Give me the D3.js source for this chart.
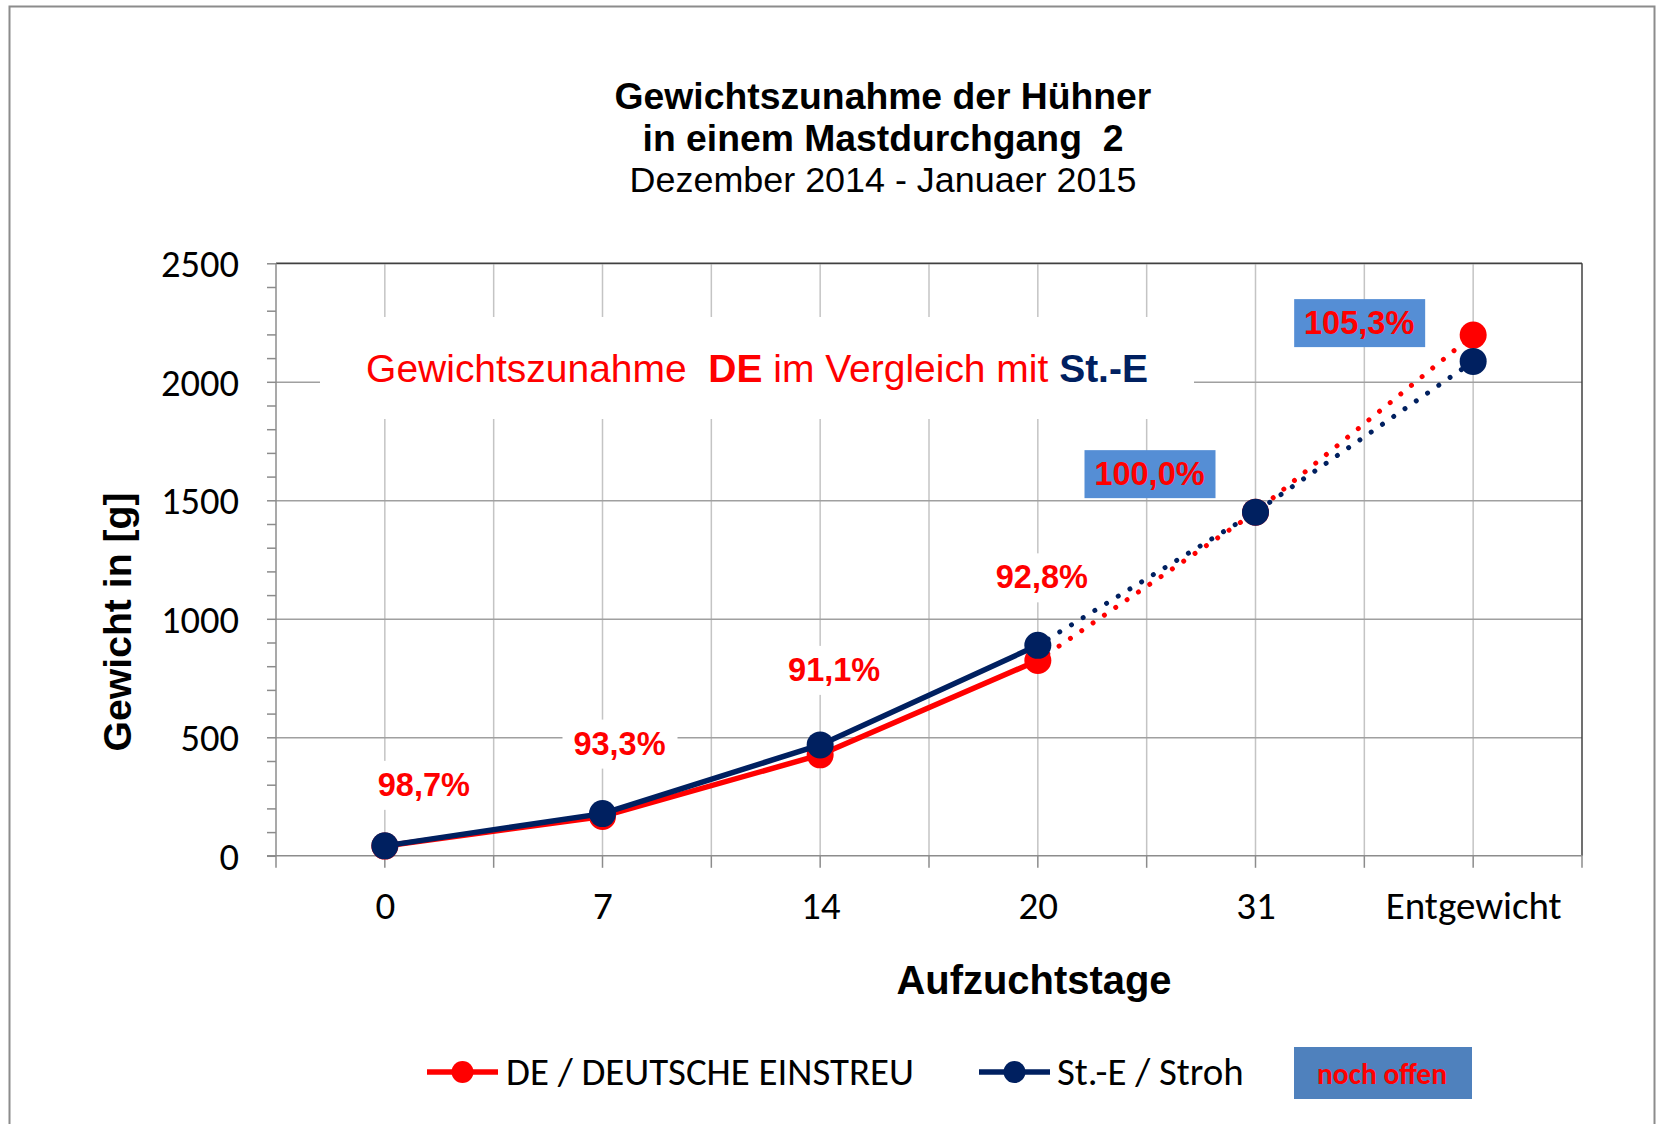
<!DOCTYPE html>
<html><head><meta charset="utf-8">
<script src="https://cdn.jsdelivr.net/npm/d3@7/dist/d3.min.js"></script>
<style>body{margin:0;background:#fff} svg{display:block} text{white-space:pre}</style>
</head><body><svg id="c" width="1657" height="1124"></svg>
<script>
// ---- data ----
const categories = ["0", "7", "14", "20", "31", "Entgewicht"];
const seriesDE = [41, 166, 426, 824, 1450, 2197];
const seriesSTE = [42, 178, 468, 888, 1450, 2086];
const ratioLabels = ["98,7%", "93,3%", "91,1%", "92,8%", "100,0%", "105,3%"];
const ratioHighlighted = [false, false, false, false, true, true];
const yTicks = [0, 500, 1000, 1500, 2000, 2500];
const yMinorTicks = d3.range(0, 2501, 100);
const seriesNames = ["DE / DEUTSCHE EINSTREU", "St.-E / Stroh"];
const titleLines = ["Gewichtszunahme der Hühner", "in einem Mastdurchgang  2", "Dezember 2014 - Januaer 2015"];
const solidUntil = 3; // index of last measured point (solid line), later dotted
const openLabel = "noch offen";

// ---- styles / layout ----
const RED = "#ff0000", NAVY = "#002060", BOX = "#558ED5", BOX2 = "#4F81BD";
const ARIAL = "'Liberation Sans', Arial, sans-serif";
const CALIBRI = "Carlito, Calibri, Lato, 'Open Sans', sans-serif";
const labelOffsets = [[39, -61], [17, -70], [14, -75], [4, -68], [-106, -38], [-114, -12]];

const svg = d3.select("#c");
const plot = {left: 276, right: 1582, top: 263.3, bottom: 855.8};
const x = d3.scalePoint().domain(categories).range([plot.left, plot.right]).padding(0.5);
const y = d3.scaleLinear().domain([0, 2500]).range([plot.bottom, plot.top]);
const step = x.step();
const halfPos = d3.range(0, categories.length * 2 + 1).map(i => plot.left + i * step / 2);

function fit(sel, target) {
  const w = sel.node().getComputedTextLength();
  const fs = parseFloat(sel.attr("font-size"));
  const nf = fs * target / w;
  sel.attr("font-size", nf);
  return nf;
}

// outer border
svg.append("rect").attr("x", 9.5).attr("y", 6.5).attr("width", 1645).attr("height", 1140)
  .attr("fill", "#fff").attr("stroke", "#8c8c8c").attr("stroke-width", 2);

// title
const tl = [{t: titleLines[0], w: 537, cy: 96, b: true}, {t: titleLines[1], w: 476, cy: 138, b: true}, {t: titleLines[2], w: 507, cy: 180, b: false}];
const titleSel = tl.map(d => svg.append("text").attr("x", 883).attr("y", d.cy).attr("text-anchor", "middle")
    .attr("dominant-baseline", "central").attr("font-family", ARIAL).attr("font-weight", d.b ? "bold" : "normal")
    .attr("font-size", 32).attr("fill", "#000").text(d.t));
const tFs = fit(titleSel[0], 537);
titleSel[1].attr("font-size", tFs);
fit(titleSel[2], 507);

// vertical gridlines
svg.append("g").selectAll("line").data(halfPos.slice(1, -1)).join("line")
  .attr("x1", d => d).attr("x2", d => d).attr("y1", plot.top).attr("y2", plot.bottom)
  .attr("stroke", "#c4c4c4").attr("stroke-width", 1.5);

// horizontal gridlines
svg.append("g").attr("transform", `translate(${plot.left},0)`)
  .call(d3.axisLeft(y).tickValues(yTicks.slice(1)).tickSize(-(plot.right - plot.left)).tickFormat(""))
  .call(g => g.select(".domain").remove())
  .call(g => g.selectAll("line").attr("stroke", "#a0a0a0").attr("stroke-width", 1.5));

// y axis minor + major ticks
svg.append("g").attr("transform", `translate(${plot.left},0)`)
  .call(d3.axisLeft(y).tickValues(yMinorTicks).tickSize(9).tickFormat(""))
  .call(g => g.select(".domain").remove())
  .call(g => g.selectAll("line").attr("stroke", "#8c8c8c").attr("stroke-width", 1.5));

// x ticks at all half positions
svg.append("g").selectAll("line").data(halfPos).join("line")
  .attr("x1", d => d).attr("x2", d => d).attr("y1", plot.bottom).attr("y2", plot.bottom + 12)
  .attr("stroke", "#8c8c8c").attr("stroke-width", 1.5);

// plot border
svg.append("line").attr("x1", plot.left).attr("x2", plot.right).attr("y1", plot.top).attr("y2", plot.top).attr("stroke", "#404040").attr("stroke-width", 1.5);
svg.append("line").attr("x1", plot.right).attr("x2", plot.right).attr("y1", plot.top).attr("y2", plot.bottom).attr("stroke", "#404040").attr("stroke-width", 1.5);
svg.append("line").attr("x1", plot.left).attr("x2", plot.left).attr("y1", plot.top).attr("y2", plot.bottom).attr("stroke", "#8c8c8c").attr("stroke-width", 1.5);
svg.append("line").attr("x1", plot.left - 9).attr("x2", plot.right).attr("y1", plot.bottom).attr("y2", plot.bottom).attr("stroke", "#8c8c8c").attr("stroke-width", 1.5);

// y labels
const yl = svg.append("g").attr("transform", `translate(${plot.left},0)`)
  .call(d3.axisLeft(y).tickValues(yTicks).tickFormat(d3.format("d")).tickSize(0).tickPadding(37))
  .call(g => g.select(".domain").remove());
yl.selectAll("text").attr("font-family", CALIBRI).attr("font-size", 38).attr("fill", "#000")
  .attr("dy", null).attr("dominant-baseline", "central");
const tickFs = fit(yl.selectAll("text").filter(d => d === 2500), 78);
yl.selectAll("text").attr("font-size", tickFs);

// x labels
const xl = svg.append("g").attr("transform", `translate(0,${plot.bottom})`)
  .call(d3.axisBottom(x).tickSize(0))
  .call(g => g.select(".domain").remove());
xl.selectAll("text").attr("font-family", CALIBRI).attr("font-size", 38).attr("fill", "#000")
  .attr("y", 906 - plot.bottom).attr("dy", null).attr("dominant-baseline", "central");
const xFs = fit(xl.selectAll("text").filter(d => d === "Entgewicht"), 176);
xl.selectAll("text").attr("font-size", xFs);

// axis titles
const xt = svg.append("text").attr("x", 1034).attr("y", 980).attr("text-anchor", "middle").attr("dominant-baseline", "central")
  .attr("font-family", ARIAL).attr("font-weight", "bold").attr("font-size", 38).text("Aufzuchtstage");
fit(xt, 275);
const yt = svg.append("text").attr("transform", "translate(117,622) rotate(-90)").attr("text-anchor", "middle").attr("dominant-baseline", "central")
  .attr("font-family", ARIAL).attr("font-weight", "bold").attr("font-size", 36).text("Gewicht in [g]");
fit(yt, 259);

// annotation box
svg.append("rect").attr("x", 320).attr("y", 317).attr("width", 874).attr("height", 102).attr("fill", "#fff");
const ann = svg.append("text").attr("x", 757).attr("y", 368).attr("text-anchor", "middle").attr("dominant-baseline", "central")
  .attr("font-family", ARIAL).attr("font-size", 37);
ann.append("tspan").attr("fill", RED).text("Gewichtszunahme  ");
ann.append("tspan").attr("fill", RED).attr("font-weight", "bold").text("DE");
ann.append("tspan").attr("fill", RED).text(" im Vergleich mit ");
ann.append("tspan").attr("fill", NAVY).attr("font-weight", "bold").text("St.-E");
fit(ann, 782);

// label backgrounds
const pts = categories.map((c, i) => ({c, i, px: x(c), py: y(Math.max(seriesDE[i], seriesSTE[i]))}));
const lblG = svg.append("g");
pts.forEach(p => {
  const cx = p.px + labelOffsets[p.i][0], cy = p.py + labelOffsets[p.i][1];
  if (ratioHighlighted[p.i]) {
    lblG.append("rect").attr("x", cx - 65).attr("y", cy - 24).attr("width", 131).attr("height", 48).attr("fill", BOX);
  } else {
    lblG.append("rect").attr("x", cx - 57).attr("y", cy - 24).attr("width", 115).attr("height", 49).attr("fill", "#fff");
  }
});

// series
function drawSeries(vals, color) {
  const g = svg.append("g");
  const solid = vals.map((v, i) => i <= solidUntil ? v : null);
  g.append("path").attr("d", d3.line().defined(d => d !== null).x((d, i) => x(categories[i])).y(d => y(d))(solid))
    .attr("fill", "none").attr("stroke", color).attr("stroke-width", 5.5).attr("stroke-linejoin", "round");
  const dottedPts = vals.map((v, i) => [x(categories[i]), y(v)]).slice(solidUntil);
  g.append("path").attr("d", d3.line()(dottedPts))
    .attr("fill", "none").attr("stroke", color).attr("stroke-width", 5).attr("stroke-linecap", "round")
    .attr("stroke-dasharray", "0.01 13.7").attr("stroke-dashoffset", -12);
  g.selectAll("circle").data(vals).join("circle")
    .attr("cx", (d, i) => x(categories[i])).attr("cy", d => y(d)).attr("r", 13.5).attr("fill", color);
}
drawSeries(seriesDE, RED);
drawSeries(seriesSTE, NAVY);

// ratio labels
pts.forEach(p => {
  const cx = p.px + labelOffsets[p.i][0], cy = p.py + labelOffsets[p.i][1];
  svg.append("text").attr("x", cx).attr("y", cy).attr("text-anchor", "middle").attr("dominant-baseline", "central")
    .attr("font-family", ARIAL).attr("font-weight", "bold").attr("font-size", 32.5).attr("fill", RED)
    .text(ratioLabels[p.i]);
});

// legend
const legend = [{name: seriesNames[0], color: RED, x0: 427, x1: 498, tx: 506},
                {name: seriesNames[1], color: NAVY, x0: 979, x1: 1050, tx: 1057}];
const legTexts = [];
legend.forEach(l => {
  svg.append("line").attr("x1", l.x0).attr("x2", l.x1).attr("y1", 1072).attr("y2", 1072).attr("stroke", l.color).attr("stroke-width", 5.5);
  svg.append("circle").attr("cx", (l.x0 + l.x1) / 2).attr("cy", 1072).attr("r", 11).attr("fill", l.color);
  legTexts.push(svg.append("text").attr("x", l.tx).attr("y", 1071).attr("dominant-baseline", "central")
    .attr("font-family", CALIBRI).attr("font-size", 38).attr("fill", "#000").text(l.name));
});
const legFs = fit(legTexts[0], 408);
legTexts[1].attr("font-size", legFs);

svg.append("rect").attr("x", 1294).attr("y", 1047).attr("width", 178).attr("height", 52).attr("fill", BOX2);
const no = svg.append("text").attr("x", 1382).attr("y", 1074).attr("text-anchor", "middle").attr("dominant-baseline", "central")
  .attr("font-family", CALIBRI).attr("font-weight", "bold").attr("font-size", 29).attr("fill", RED).text(openLabel);
fit(no, 130);
</script>
</body></html>
